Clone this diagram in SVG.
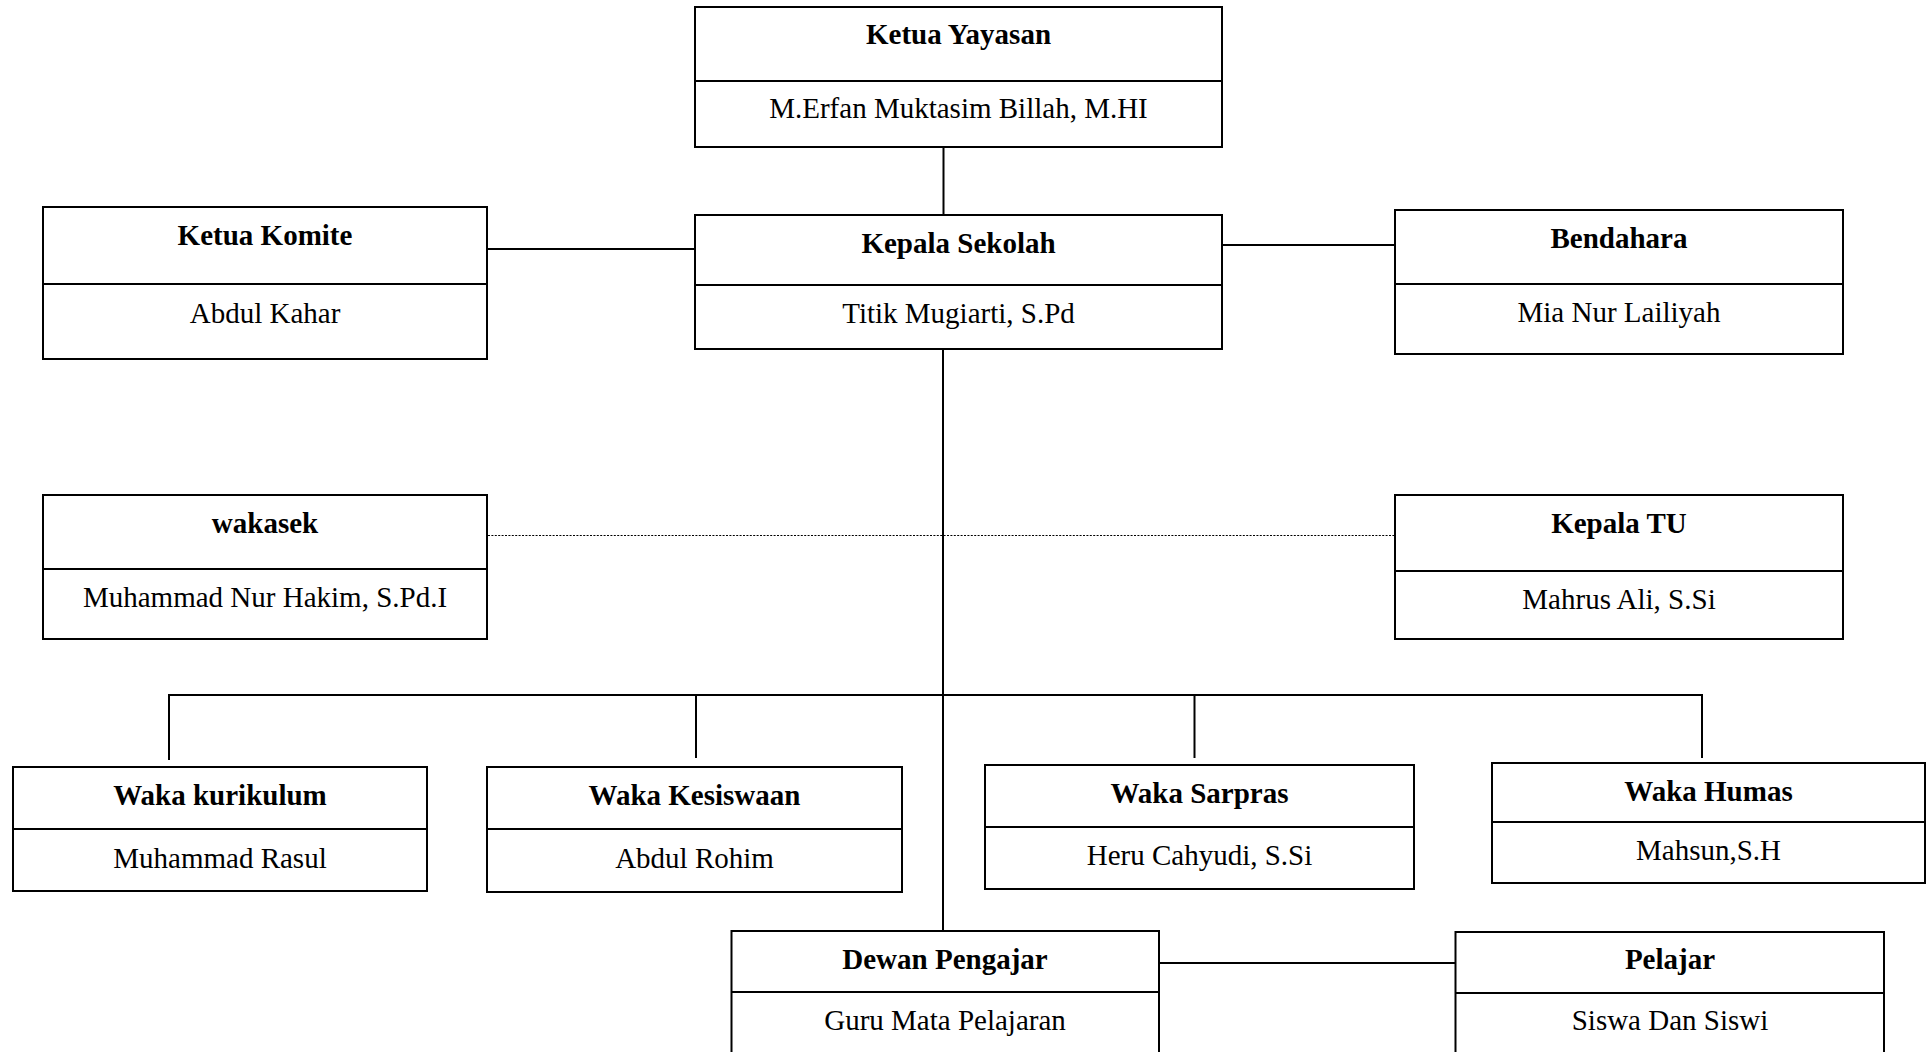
<svg xmlns="http://www.w3.org/2000/svg" width="1927" height="1052" viewBox="0 0 1927 1052">
<style>
.box{fill:#fff;stroke:#000;stroke-width:2}
.div{stroke:#000;stroke-width:2}
.t{font-family:"Liberation Serif","Times New Roman",serif;font-size:29px;font-weight:bold;text-anchor:middle;fill:#000}
.n{font-family:"Liberation Serif","Times New Roman",serif;font-size:29px;text-anchor:middle;fill:#000}
.c{stroke:#000;stroke-width:2;fill:none}
.d{stroke:#000;stroke-width:1.2;stroke-dasharray:2 1.4;fill:none}
</style>
<rect width="1927" height="1052" fill="#fff"/>
<g id="connectors">
<line class="c" x1="943.5" y1="147" x2="943.5" y2="215"/>
<line class="c" x1="487" y1="249" x2="695" y2="249"/>
<line class="c" x1="1222" y1="245" x2="1395" y2="245"/>
<line class="d" x1="488" y1="535.5" x2="1395" y2="535.5"/>
<line class="c" x1="943" y1="349" x2="943" y2="931"/>
<line class="c" x1="169" y1="695" x2="1702" y2="695"/>
<line class="c" x1="169" y1="694" x2="169" y2="760"/>
<line class="c" x1="696" y1="695" x2="696" y2="758"/>
<line class="c" x1="1194.5" y1="695" x2="1194.5" y2="758"/>
<line class="c" x1="1702" y1="694" x2="1702" y2="758"/>
<line class="c" x1="1159" y1="963" x2="1455" y2="963"/>
</g>
<g id="ketua-yayasan">
<rect class="box" x="695" y="7" width="527" height="140"/>
<line class="div" x1="695" y1="81" x2="1222" y2="81"/>
<text class="t" x="958.5" y="44">Ketua Yayasan</text>
<text class="n" x="958.5" y="118">M.Erfan Muktasim Billah, M.HI</text>
</g>
<g id="kepala-sekolah">
<rect class="box" x="695" y="215" width="527" height="134"/>
<line class="div" x1="695" y1="285" x2="1222" y2="285"/>
<text class="t" x="958.5" y="253">Kepala Sekolah</text>
<text class="n" x="958.5" y="323">Titik Mugiarti, S.Pd</text>
</g>
<g id="ketua-komite">
<rect class="box" x="43" y="207" width="444" height="152"/>
<line class="div" x1="43" y1="284" x2="487" y2="284"/>
<text class="t" x="265" y="245">Ketua Komite</text>
<text class="n" x="265" y="323">Abdul Kahar</text>
</g>
<g id="bendahara">
<rect class="box" x="1395" y="210" width="448" height="144"/>
<line class="div" x1="1395" y1="284" x2="1843" y2="284"/>
<text class="t" x="1619" y="248">Bendahara</text>
<text class="n" x="1619" y="322">Mia Nur Lailiyah</text>
</g>
<g id="wakasek">
<rect class="box" x="43" y="495" width="444" height="144"/>
<line class="div" x1="43" y1="569" x2="487" y2="569"/>
<text class="t" x="265" y="533">wakasek</text>
<text class="n" x="265" y="607">Muhammad Nur Hakim, S.Pd.I</text>
</g>
<g id="kepala-tu">
<rect class="box" x="1395" y="495" width="448" height="144"/>
<line class="div" x1="1395" y1="571" x2="1843" y2="571"/>
<text class="t" x="1619" y="533">Kepala TU</text>
<text class="n" x="1619" y="609">Mahrus Ali, S.Si</text>
</g>
<g id="waka-kurikulum">
<rect class="box" x="13" y="767" width="414" height="124"/>
<line class="div" x1="13" y1="829" x2="427" y2="829"/>
<text class="t" x="220" y="805">Waka kurikulum</text>
<text class="n" x="220" y="868">Muhammad Rasul</text>
</g>
<g id="waka-kesiswaan">
<rect class="box" x="487" y="767" width="415" height="125"/>
<line class="div" x1="487" y1="829" x2="902" y2="829"/>
<text class="t" x="694.5" y="805">Waka Kesiswaan</text>
<text class="n" x="694.5" y="868">Abdul Rohim</text>
</g>
<g id="waka-sarpras">
<rect class="box" x="985" y="765" width="429" height="124"/>
<line class="div" x1="985" y1="827" x2="1414" y2="827"/>
<text class="t" x="1199.5" y="803">Waka Sarpras</text>
<text class="n" x="1199.5" y="865">Heru Cahyudi, S.Si</text>
</g>
<g id="waka-humas">
<rect class="box" x="1492" y="763" width="433" height="120"/>
<line class="div" x1="1492" y1="822" x2="1925" y2="822"/>
<text class="t" x="1708.5" y="801">Waka Humas</text>
<text class="n" x="1708.5" y="860">Mahsun,S.H</text>
</g>
<g id="dewan-pengajar">
<rect class="box" x="731.5" y="931" width="427.5" height="140"/>
<line class="div" x1="731.5" y1="992" x2="1159" y2="992"/>
<text class="t" x="945" y="969">Dewan Pengajar</text>
<text class="n" x="945" y="1030">Guru Mata Pelajaran</text>
</g>
<g id="pelajar">
<rect class="box" x="1455.5" y="932" width="428.5" height="140"/>
<line class="div" x1="1455.5" y1="993" x2="1884" y2="993"/>
<text class="t" x="1670" y="969">Pelajar</text>
<text class="n" x="1670" y="1030">Siswa Dan Siswi</text>
</g>
</svg>
